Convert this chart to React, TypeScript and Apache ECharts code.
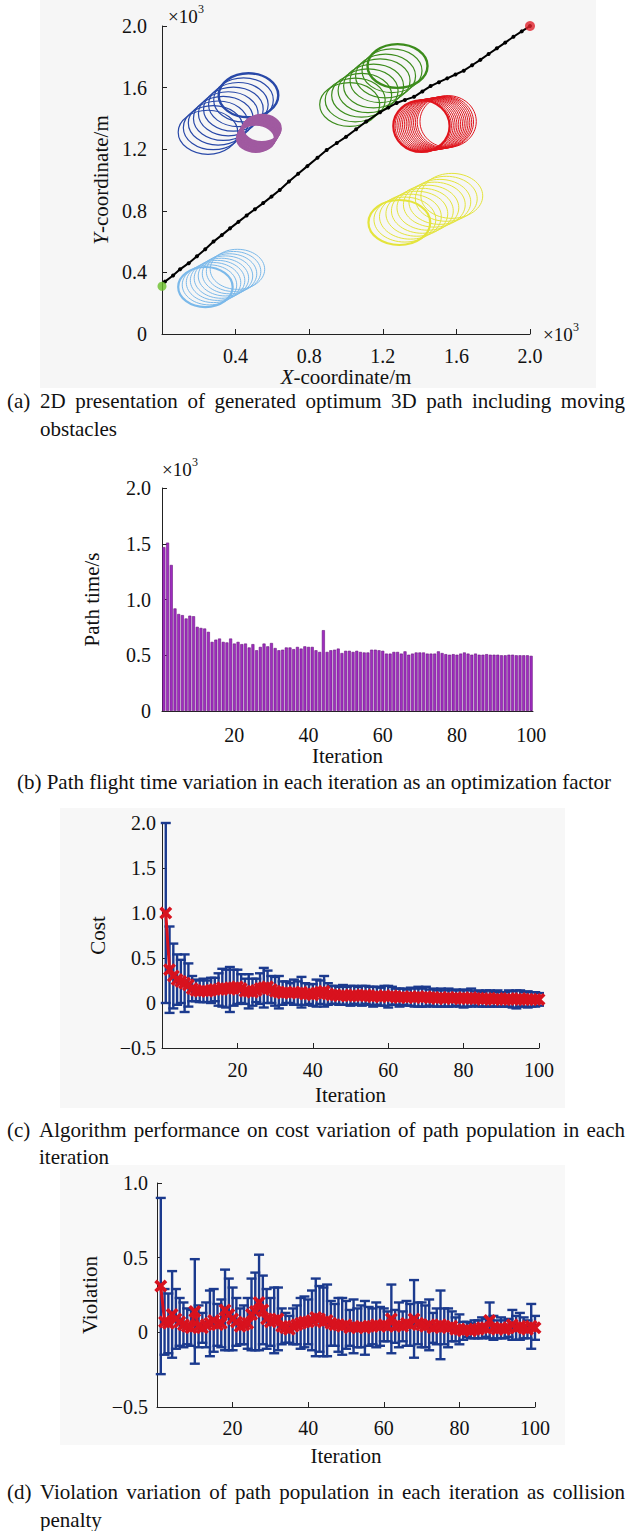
import React, { useEffect, useRef } from 'react';
import * as echarts from 'echarts';

// ---------------- data ----------------
// (a) optimum path (x10^3 m)
const pathX = [0.016, 0.06, 0.098, 0.145, 0.19, 0.235, 0.28, 0.325, 0.37, 0.415, 0.46, 0.505, 0.55, 0.595, 0.64, 0.69, 0.74, 0.79, 0.845, 0.895, 0.95, 1.0, 1.055, 1.11, 1.185, 1.23, 1.275, 1.32, 1.37, 1.415, 1.46, 1.505, 1.55, 1.595, 1.64, 1.685, 1.73, 1.775, 1.82, 1.865, 1.91, 1.955, 2.0];
const pathY = [0.34, 0.38, 0.42, 0.46, 0.505, 0.55, 0.6, 0.642, 0.686, 0.728, 0.77, 0.81, 0.85, 0.892, 0.935, 0.99, 1.04, 1.09, 1.145, 1.195, 1.24, 1.28, 1.33, 1.38, 1.44, 1.47, 1.5, 1.52, 1.54, 1.575, 1.61, 1.635, 1.66, 1.685, 1.71, 1.745, 1.78, 1.818, 1.855, 1.892, 1.93, 1.965, 2.0];
const startPoint = [0.0, 0.31];
const endPoint = [2.0, 2.0];

// moving obstacles: centre tracks and radii (x10^3 m)
const blueCX = [0.25, 0.278, 0.305, 0.333, 0.36, 0.388, 0.415, 0.443, 0.47];
const blueCY = [1.31, 1.34, 1.37, 1.4, 1.43, 1.46, 1.49, 1.52, 1.55];
const blueR = [0.162, 0.143];
const purpleCX = [0.51, 0.513, 0.516, 0.519, 0.522, 0.525, 0.528, 0.531, 0.534, 0.537, 0.54, 0.543];
const purpleCY = [1.27, 1.276, 1.282, 1.288, 1.294, 1.3, 1.306, 1.312, 1.318, 1.324, 1.33, 1.335];
const purpleR = [0.103, 0.088];
const greenCX = [1.02, 1.05, 1.085, 1.12, 1.15, 1.185, 1.215, 1.25, 1.28];
const greenCY = [1.49, 1.52, 1.55, 1.58, 1.61, 1.645, 1.675, 1.71, 1.74];
const greenR = [0.163, 0.142];
const redCX = [1.41, 1.42, 1.43, 1.44, 1.45, 1.46, 1.47, 1.48, 1.49, 1.5, 1.51, 1.52, 1.53, 1.54, 1.555];
const redCY = [1.35, 1.352, 1.354, 1.356, 1.358, 1.36, 1.362, 1.364, 1.366, 1.368, 1.37, 1.372, 1.374, 1.377, 1.38];
const redR = [0.153, 0.168];
const yellowCX = [1.29, 1.32, 1.35, 1.385, 1.415, 1.445, 1.48, 1.51, 1.545, 1.575];
const yellowCY = [0.724, 0.743, 0.762, 0.781, 0.8, 0.82, 0.84, 0.858, 0.878, 0.897];
const yellowR = [0.168, 0.146];
const lightCX = [0.236, 0.258, 0.28, 0.302, 0.323, 0.345, 0.367, 0.389, 0.41];
const lightCY = [0.305, 0.319, 0.334, 0.348, 0.362, 0.377, 0.391, 0.406, 0.42];
const lightR = [0.148, 0.13];

// (b) path time per iteration (x10^3 s)
const iterations = ['1','2','3','4','5','6','7','8','9','10','11','12','13','14','15','16','17','18','19','20','21','22','23','24','25','26','27','28','29','30','31','32','33','34','35','36','37','38','39','40','41','42','43','44','45','46','47','48','49','50','51','52','53','54','55','56','57','58','59','60','61','62','63','64','65','66','67','68','69','70','71','72','73','74','75','76','77','78','79','80','81','82','83','84','85','86','87','88','89','90','91','92','93','94','95','96','97','98','99','100'];
const pathTime = [
  1.47, 1.51, 1.31, 0.92, 0.87, 0.86, 0.83, 0.855, 0.85, 0.755,
  0.745, 0.74, 0.71, 0.62, 0.64, 0.65, 0.62, 0.615, 0.65, 0.605,
  0.62, 0.6, 0.605, 0.57, 0.6, 0.545, 0.575, 0.605, 0.58, 0.61,
  0.565, 0.545, 0.55, 0.57, 0.57, 0.555, 0.575, 0.56, 0.58, 0.575,
  0.575, 0.545, 0.53, 0.725, 0.53, 0.545, 0.55, 0.56, 0.52, 0.54,
  0.54, 0.53, 0.54, 0.53, 0.525, 0.525, 0.55, 0.55, 0.545, 0.54,
  0.515, 0.515, 0.53, 0.53, 0.515, 0.535, 0.505, 0.515, 0.525, 0.525,
  0.525, 0.515, 0.515, 0.515, 0.535, 0.52, 0.51, 0.505, 0.51, 0.505,
  0.515, 0.525, 0.515, 0.505, 0.515, 0.505, 0.505, 0.51, 0.505, 0.505,
  0.505, 0.5, 0.5, 0.505, 0.505, 0.5, 0.5, 0.5, 0.5, 0.495,
];

// (c) cost: mean and spread per iteration
const costMean = [
  1.0, 0.37, 0.3, 0.26, 0.24, 0.22, 0.2, 0.16, 0.14, 0.13,
  0.14, 0.13, 0.14, 0.15, 0.15, 0.17, 0.16, 0.15, 0.17, 0.18,
  0.16, 0.13, 0.13, 0.12, 0.14, 0.16, 0.17, 0.18, 0.15, 0.13,
  0.12, 0.11, 0.12, 0.11, 0.12, 0.11, 0.12, 0.1, 0.1, 0.09,
  0.11, 0.12, 0.13, 0.1, 0.09, 0.09, 0.08, 0.09, 0.08, 0.08,
  0.09, 0.08, 0.08, 0.09, 0.08, 0.07, 0.08, 0.07, 0.08, 0.07,
  0.08, 0.07, 0.06, 0.07, 0.06, 0.07, 0.06, 0.07, 0.06, 0.07,
  0.06, 0.06, 0.05, 0.06, 0.05, 0.06, 0.05, 0.06, 0.05, 0.05,
  0.05, 0.06, 0.05, 0.05, 0.04, 0.05, 0.05, 0.04, 0.05, 0.04,
  0.04, 0.05, 0.04, 0.04, 0.05, 0.04, 0.04, 0.04, 0.04, 0.04,
];
const costStd = [
  1.0, 0.48, 0.36, 0.28, 0.24, 0.32, 0.24, 0.14, 0.12, 0.12,
  0.13, 0.12, 0.14, 0.13, 0.18, 0.21, 0.21, 0.25, 0.2, 0.19,
  0.16, 0.14, 0.19, 0.15, 0.13, 0.17, 0.22, 0.18, 0.15, 0.16,
  0.18, 0.13, 0.12, 0.11, 0.14, 0.13, 0.17, 0.12, 0.11, 0.12,
  0.15, 0.13, 0.17, 0.12, 0.1, 0.1, 0.1, 0.11, 0.1, 0.11,
  0.1, 0.1, 0.11, 0.1, 0.1, 0.11, 0.1, 0.1, 0.11, 0.12,
  0.1, 0.09, 0.1, 0.09, 0.09, 0.1, 0.1, 0.11, 0.1, 0.11,
  0.09, 0.1, 0.09, 0.1, 0.09, 0.1, 0.09, 0.09, 0.09, 0.1,
  0.09, 0.1, 0.08, 0.09, 0.08, 0.09, 0.09, 0.08, 0.09, 0.08,
  0.08, 0.09, 0.09, 0.1, 0.09, 0.08, 0.09, 0.08, 0.08, 0.07,
];

// (d) violation: mean and spread per iteration
const violMean = [
  0.31, 0.07, 0.06, 0.12, 0.09, 0.07, 0.05, 0.04, 0.03, 0.14,
  0.04, 0.03, 0.05, 0.06, 0.08, 0.05, 0.06, 0.15, 0.12, 0.09,
  0.07, 0.04, 0.05, 0.06, 0.12, 0.14, 0.2, 0.15, 0.09, 0.07,
  0.08, 0.09, 0.04, 0.03, 0.02, 0.04, 0.05, 0.06, 0.07, 0.07,
  0.08, 0.1, 0.09, 0.07, 0.08, 0.06, 0.05, 0.05, 0.04, 0.05,
  0.03, 0.04, 0.03, 0.04, 0.03, 0.04, 0.04, 0.05, 0.04, 0.05,
  0.04, 0.09, 0.04, 0.05, 0.04, 0.06, 0.05, 0.09, 0.06, 0.05,
  0.04, 0.05, 0.03, 0.04, 0.05, 0.04, 0.03, 0.04, 0.02, 0.02,
  0.01, 0.02, 0.01, 0.02, 0.02, 0.03, 0.03, 0.08, 0.03, 0.02,
  0.03, 0.02, 0.03, 0.05, 0.03, 0.04, 0.03, 0.02, 0.04, 0.03,
];
const violStd = [
  0.59, 0.22, 0.2, 0.29, 0.2, 0.16, 0.15, 0.12, 0.12, 0.35,
  0.14, 0.1, 0.15, 0.22, 0.21, 0.14, 0.16, 0.27, 0.24, 0.21,
  0.16, 0.12, 0.13, 0.17, 0.24, 0.26, 0.32, 0.23, 0.2, 0.16,
  0.22, 0.21, 0.12, 0.1, 0.09, 0.12, 0.13, 0.17, 0.17, 0.15,
  0.2, 0.26, 0.22, 0.23, 0.24, 0.15, 0.14, 0.18, 0.19, 0.16,
  0.12, 0.18, 0.13, 0.14, 0.18, 0.13, 0.12, 0.15, 0.13, 0.11,
  0.1, 0.23, 0.11, 0.15, 0.1, 0.15, 0.14, 0.26, 0.14, 0.15,
  0.14, 0.17, 0.1, 0.12, 0.23, 0.12, 0.13, 0.1, 0.08, 0.1,
  0.06, 0.05, 0.05, 0.06, 0.06, 0.07, 0.06, 0.12, 0.08, 0.06,
  0.07, 0.06, 0.06, 0.1, 0.08, 0.09, 0.07, 0.06, 0.15, 0.08,
];

// captions
const captionA1 = '2D presentation of generated optimum 3D path including moving';
const captionA2 = 'obstacles';
const captionB = '(b) Path flight time variation in each iteration as an optimization factor';
const captionC1 = 'Algorithm performance on cost variation of path population in each';
const captionC2 = 'iteration';
const captionD1 = 'Violation variation of path population in each iteration as collision';
const captionD2 = 'penalty';

// ---------------- styling ----------------
const SERIF = '"Liberation Serif", "Times New Roman", serif';
const INK = '#111';
const AXIS = '#222';
const BLUE = '#1b3a8e';
const RED = '#d8121e';
const XSYM = 'path://M0,2L2,0L5,3L8,0L10,2L7,5L10,8L8,10L5,7L2,10L0,8L3,5Z';

function measureWidth(text: string, size: number) {
  const ctx = document.createElement('canvas').getContext('2d') as CanvasRenderingContext2D;
  ctx.font = `${size}px "Liberation Serif"`;
  return ctx.measureText(text).width;
}

function textEl(text: string, x: number, y: number, size: number, align = 'left') {
  return {
    type: 'text', x, y, z: 100,
    style: { text, fontSize: size, fontFamily: SERIF, fill: INK, align, verticalAlign: 'middle' },
  };
}

function justifiedLine(text: string, x0: number, x1: number, y: number, size: number) {
  const words = text.split(' ');
  const ws = words.map((w) => measureWidth(w, size));
  const total = ws.reduce((a, b) => a + b, 0);
  const gap = (x1 - x0 - total) / (words.length - 1);
  const out: any[] = [];
  let x = x0;
  words.forEach((w, i) => {
    out.push(textEl(w, x, y, size));
    x += ws[i] + gap;
  });
  return out;
}

function times10(x: number, y: number) {
  return [
    { type: 'text', x, y, z: 100, style: { text: '×10', fontSize: 19, fontFamily: SERIF, fill: INK, align: 'left', verticalAlign: 'middle' } },
    { type: 'text', x: x + 30, y: y - 7, z: 100, style: { text: '3', fontSize: 12, fontFamily: SERIF, fill: INK, align: 'left', verticalAlign: 'middle' } },
  ];
}

const axisBase = {
  axisLine: { show: true, onZero: false, lineStyle: { color: AXIS, width: 1 } },
  axisTick: { show: true, inside: true, length: 5, lineStyle: { color: AXIS, width: 1 } },
  splitLine: { show: false },
  nameTextStyle: { color: INK, fontSize: 21, fontFamily: SERIF, rich: { i: { fontStyle: 'italic', fontSize: 21, fontFamily: SERIF, color: INK } } },
};
const labelBase = { color: INK, fontSize: 20, fontFamily: SERIF };

const fmtY = (v: number) => {
  if (Math.abs(v) < 1e-9) return '0';
  return v < 0 ? '\u2212' + Math.abs(v).toFixed(1) : v.toFixed(1);
};
const fmtXA = (v: number) => (Math.abs(v) < 1e-9 ? '' : v.toFixed(1));
const fmtXI = (v: number) => (Math.abs(v) < 1e-9 ? '' : String(Math.round(v)));
const every20 = (index: number) => (index + 1) % 20 === 0;

function ellipseSeries(cx: number[], cy: number[], r: number[], color: string, boldIndex: number, lw: number, boldLw: number) {
  return {
    type: 'custom', xAxisIndex: 0, yAxisIndex: 0, z: 1, silent: true,
    data: cx.map((x, i) => [x, cy[i], r[0], r[1]]),
    encode: { x: 0, y: 1 },
    renderItem: (params: any, api: any) => {
      const c = api.coord([api.value(0), api.value(1)]);
      const s = api.size([api.value(2), api.value(3)]);
      return {
        type: 'ellipse',
        shape: { cx: c[0], cy: c[1], rx: s[0], ry: s[1] },
        style: { fill: 'none', stroke: color, lineWidth: params.dataIndex === boldIndex ? boldLw : lw },
      };
    },
  };
}

function errorBarSeries(axis: number, mean: number[], std: number[]) {
  return {
    type: 'custom', xAxisIndex: axis, yAxisIndex: axis, z: 2, silent: true,
    data: mean.map((m, i) => [i + 1, m, std[i]]),
    encode: { x: 0, y: 1 },
    renderItem: (params: any, api: any) => {
      const x = api.value(0), m = api.value(1), s = api.value(2);
      const hi = api.coord([x, m + s]);
      const lo = api.coord([x, m - s]);
      const hw = 5;
      const st = { stroke: BLUE, lineWidth: 2.4 };
      return {
        type: 'group',
        children: [
          { type: 'line', shape: { x1: hi[0], y1: hi[1], x2: lo[0], y2: lo[1] }, style: st },
          { type: 'line', shape: { x1: hi[0] - hw, y1: hi[1], x2: hi[0] + hw, y2: hi[1] }, style: st },
          { type: 'line', shape: { x1: lo[0] - hw, y1: lo[1], x2: lo[0] + hw, y2: lo[1] }, style: st },
        ],
      };
    },
  };
}

function meanSeries(axis: number, mean: number[]) {
  return {
    type: 'line', xAxisIndex: axis, yAxisIndex: axis, z: 3, silent: true,
    data: mean.map((m, i) => [i + 1, m]),
    symbol: XSYM, symbolSize: 13, showAllSymbol: true,
    lineStyle: { color: RED, width: 3 },
    itemStyle: { color: RED },
  };
}

export default function App() {
  const ref = useRef<HTMLDivElement>(null);

  useEffect(() => {
    if (!ref.current) return;
    const chart = echarts.init(ref.current, null, { renderer: 'svg' });

    const graphics: any[] = [
      { type: 'rect', z: -10, shape: { x: 40, y: 0, width: 556, height: 388 }, style: { fill: '#f6f6f6' } },
      { type: 'rect', z: -10, shape: { x: 60, y: 808, width: 505, height: 300 }, style: { fill: '#f7f7f7' } },
      { type: 'rect', z: -10, shape: { x: 60, y: 1165, width: 505, height: 280 }, style: { fill: '#f8f8f8' } },
      ...times10(168, 16),
      ...times10(543, 334),
      ...times10(162, 469),
      textEl('(a)', 7, 401, 21),
      ...justifiedLine(captionA1, 40, 625, 401, 21),
      textEl(captionA2, 40, 429, 21),
      textEl(captionB, 314, 782, 21, 'center'),
      textEl('(c)', 7, 1130, 21),
      ...justifiedLine(captionC1, 39, 625, 1130, 21),
      textEl(captionC2, 39, 1157, 21),
      textEl('(d)', 7, 1492, 21),
      ...justifiedLine(captionD1, 40, 625, 1492, 21),
      textEl(captionD2, 40, 1520, 21),
    ];

    const option: any = {
      animation: false,
      backgroundColor: '#ffffff',
      textStyle: { fontFamily: SERIF },
      graphic: { elements: graphics },
      grid: [
        { left: 162, top: 26, width: 368, height: 308 },
        { left: 162, top: 488, width: 371, height: 223 },
        { left: 162, top: 823, width: 377, height: 225 },
        { left: 157, top: 1183, width: 378, height: 224 },
      ],
      xAxis: [
        {
          ...axisBase, gridIndex: 0, type: 'value', min: 0, max: 2, interval: 0.4,
          name: '{i|X}-coordinate/m', nameLocation: 'middle', nameGap: 30,
          axisLabel: { ...labelBase, margin: 12, formatter: fmtXA },
        },
        {
          ...axisBase, gridIndex: 1, type: 'category', data: iterations, boundaryGap: true,
          axisTick: { ...axisBase.axisTick, alignWithLabel: true, interval: every20 },
          name: 'Iteration', nameLocation: 'middle', nameGap: 33,
          axisLabel: { ...labelBase, margin: 14, interval: every20 },
        },
        {
          ...axisBase, gridIndex: 2, type: 'value', min: 0, max: 100, interval: 20,
          name: 'Iteration', nameLocation: 'middle', nameGap: 36,
          axisLabel: { ...labelBase, margin: 12, formatter: fmtXI },
        },
        {
          ...axisBase, gridIndex: 3, type: 'value', min: 0, max: 100, interval: 20,
          name: 'Iteration', nameLocation: 'middle', nameGap: 38,
          axisLabel: { ...labelBase, margin: 11, formatter: fmtXI },
        },
      ],
      yAxis: [
        {
          ...axisBase, gridIndex: 0, type: 'value', min: 0, max: 2, interval: 0.4,
          name: '{i|Y}-coordinate/m', nameLocation: 'middle', nameGap: 50,
          axisLabel: { ...labelBase, margin: 15, formatter: fmtY },
        },
        {
          ...axisBase, gridIndex: 1, type: 'value', min: 0, max: 2, interval: 0.5,
          name: 'Path time/s', nameLocation: 'middle', nameGap: 60,
          axisLabel: { ...labelBase, margin: 11, formatter: fmtY },
        },
        {
          ...axisBase, gridIndex: 2, type: 'value', min: -0.5, max: 2, interval: 0.5,
          name: 'Cost', nameLocation: 'middle', nameGap: 46,
          axisLabel: { ...labelBase, margin: 6, formatter: fmtY },
        },
        {
          ...axisBase, gridIndex: 3, type: 'value', min: -0.5, max: 1, interval: 0.5,
          name: 'Violation', nameLocation: 'middle', nameGap: 45,
          axisLabel: { ...labelBase, margin: 9, formatter: fmtY },
        },
      ],
      series: [
        ellipseSeries(lightCX, lightCY, lightR, '#7bb9ea', 0, 1, 2.2),
        ellipseSeries(yellowCX, yellowCY, yellowR, '#e4e43c', 0, 1, 2.2),
        ellipseSeries(blueCX, blueCY, blueR, '#2848a8', blueCX.length - 1, 1.2, 2.4),
        ellipseSeries(greenCX, greenCY, greenR, '#3c8c1c', greenCX.length - 1, 1.2, 2.4),
        ellipseSeries(redCX, redCY, redR, '#e0141c', 0, 1, 2.2),
        ellipseSeries(purpleCX, purpleCY, purpleR, '#a05aa0', -1, 2, 2),
        {
          type: 'line', xAxisIndex: 0, yAxisIndex: 0, z: 5, silent: true,
          data: pathX.map((x, i) => [x, pathY[i]]),
          symbol: 'circle', symbolSize: 4, showAllSymbol: true,
          lineStyle: { color: '#000', width: 2 }, itemStyle: { color: '#000' },
        },
        {
          type: 'scatter', xAxisIndex: 0, yAxisIndex: 0, z: 6, silent: true,
          data: [startPoint], symbol: 'circle', symbolSize: 9,
          itemStyle: { color: '#6cc02a' },
        },
        {
          type: 'scatter', xAxisIndex: 0, yAxisIndex: 0, z: 6, silent: true,
          data: [endPoint], symbol: 'circle', symbolSize: 10,
          itemStyle: { color: '#e0202a' },
        },
        {
          type: 'bar', xAxisIndex: 1, yAxisIndex: 1, silent: true,
          data: pathTime, barCategoryGap: '18%',
          itemStyle: { color: '#a02cc0', borderColor: '#6a1a80', borderWidth: 0.6 },
        },
        errorBarSeries(2, costMean, costStd),
        meanSeries(2, costMean),
        errorBarSeries(3, violMean, violStd),
        meanSeries(3, violMean),
      ],
    };

    chart.setOption(option);
    return () => chart.dispose();
  }, []);

  return (
    <div
      ref={ref}
      style={{ position: 'absolute', left: 0, top: 0, width: 628, height: 1531, background: '#fff' }}
    />
  );
}
